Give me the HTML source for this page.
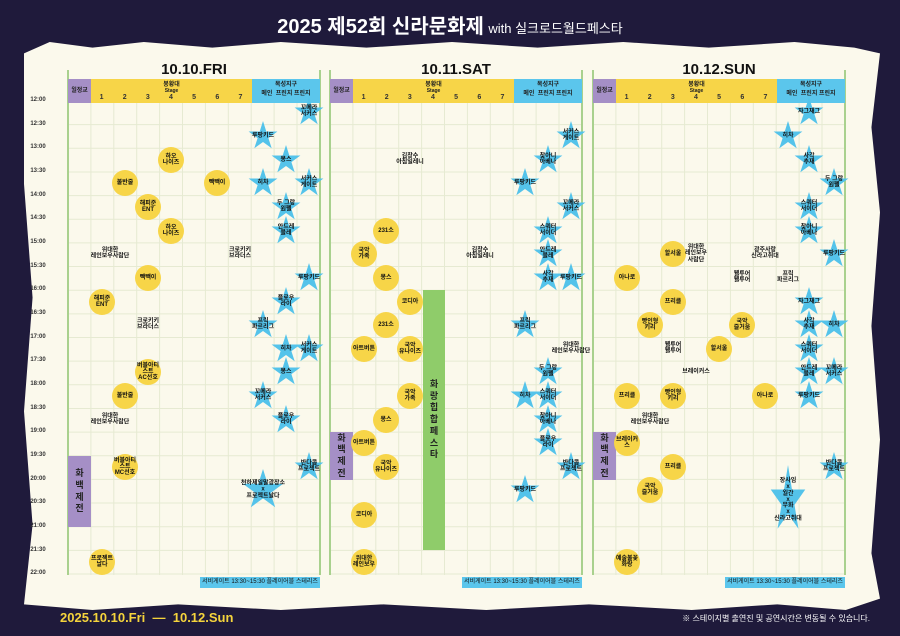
<!DOCTYPE html>
<html><head><meta charset="utf-8"><style>
*{margin:0;padding:0;box-sizing:border-box}
body{width:900px;height:636px;background:#1f1a3b;position:relative;overflow:hidden;font-family:"Liberation Sans","Noto Sans CJK KR",sans-serif}
.paper{position:absolute;left:24px;top:42px;width:856px;height:568px;background:#fbf9ec;clip-path:polygon(0 2%,3% 0,8% 1%,14% 0,22% 1%,30% 0,40% 1%,50% 0,60% 1%,70% 0,80% 1%,90% 0,97% 1%,100% 2%,99% 15%,100% 30%,99% 50%,100% 70%,99% 90%,100% 98%,96% 100%,88% 99%,78% 100%,66% 99%,54% 100%,42% 99%,30% 100%,18% 99%,8% 100%,0 99%,1% 85%,0 65%,1% 45%,0 25%)}
.a{position:absolute}
.t{font-size:6px;color:#333;font-weight:bold;width:24px;text-align:center}
.c{position:absolute;width:26px;height:26px;border-radius:50%;background:#f7d548;transform:translate(-50%,-50%);display:flex;align-items:center;justify-content:center;text-align:center;font-size:6px;font-weight:bold;line-height:1.05;color:#111}
.s{position:absolute;width:30px;height:30px;background:#54c3ea;transform:translate(-50%,-50%);clip-path:polygon(50% 0,61% 35%,98% 35%,68% 57%,79% 91%,50% 70%,21% 91%,32% 57%,2% 35%,39% 35%)}
.l{position:absolute;transform:translate(-50%,-50%);font-size:6px;font-weight:bold;line-height:1.05;text-align:center;color:#111;white-space:nowrap}
.hd{position:absolute;top:79px;height:24px;font-size:6px;font-weight:bold;text-align:center;color:#222}
.pur{background:#a58fc6}
.yel{background:#f7d548}
.blu{background:#5bc6ec}
.date{position:absolute;top:61px;width:252px;text-align:center;font-size:15px;font-weight:bold;color:#111}
.foot{position:absolute;top:577px;height:11px;background:#5bc6ec;font-size:6px;text-align:center;line-height:11px;color:#111}
.vb{position:absolute;font-size:9px;font-weight:bold;color:#222;text-align:center;display:flex;align-items:center;justify-content:center;line-height:1.3}
</style></head><body>
<div class="a" style="left:0;top:10px;width:900px;text-align:center;color:#fff"><span style="font-size:20px;font-weight:bold">2025 제52회 신라문화제</span> <span style="font-size:13px">with 실크로드월드페스타</span></div>
<div class="paper"></div>
<svg class="a" style="left:0;top:0" width="900" height="636" id="g"></svg>
<div class="date" style="left:68px">10.10.FRI</div>
<div class="date" style="left:330px">10.11.SAT</div>
<div class="date" style="left:593px">10.12.SUN</div>
<!-- headers -->
<div class="hd pur" style="left:68px;width:23px;line-height:24px">월정교</div>
<div class="hd yel" style="left:91px;width:161px">봉황대<br><span style="font-size:5px">Stage</span></div>
<div class="hd blu" style="left:252px;width:68px">목성지구<br>메인 &nbsp;프린지 프린지</div>
<div class="hd pur" style="left:330px;width:23px;line-height:24px">월정교</div>
<div class="hd yel" style="left:353px;width:161px">봉황대<br><span style="font-size:5px">Stage</span></div>
<div class="hd blu" style="left:514px;width:68px">목성지구<br>메인 &nbsp;프린지 프린지</div>
<div class="hd pur" style="left:593px;width:23px;line-height:24px">월정교</div>
<div class="hd yel" style="left:616px;width:161px">봉황대<br><span style="font-size:5px">Stage</span></div>
<div class="hd blu" style="left:777px;width:68px">목성지구<br>메인 &nbsp;프린지 프린지</div>
<div class="a t" style="left:90px;top:94px;width:162px;display:flex;justify-content:space-around;font-size:7px"><span>1</span><span>2</span><span>3</span><span>4</span><span>5</span><span>6</span><span>7</span></div>
<div class="a t" style="left:352px;top:94px;width:162px;display:flex;justify-content:space-around;font-size:7px"><span>1</span><span>2</span><span>3</span><span>4</span><span>5</span><span>6</span><span>7</span></div>
<div class="a t" style="left:615px;top:94px;width:162px;display:flex;justify-content:space-around;font-size:7px"><span>1</span><span>2</span><span>3</span><span>4</span><span>5</span><span>6</span><span>7</span></div>
<!-- time labels -->
<div class="a t" style="left:26px;top:97px">12:00</div><div class="a t" style="left:26px;top:121px">12:30</div>
<div class="a t" style="left:26px;top:144px">13:00</div><div class="a t" style="left:26px;top:168px">13:30</div>
<div class="a t" style="left:26px;top:192px">14:00</div><div class="a t" style="left:26px;top:215px">14:30</div>
<div class="a t" style="left:26px;top:239px">15:00</div><div class="a t" style="left:26px;top:263px">15:30</div>
<div class="a t" style="left:26px;top:286px">16:00</div><div class="a t" style="left:26px;top:310px">16:30</div>
<div class="a t" style="left:26px;top:334px">17:00</div><div class="a t" style="left:26px;top:357px">17:30</div>
<div class="a t" style="left:26px;top:381px">18:00</div><div class="a t" style="left:26px;top:405px">18:30</div>
<div class="a t" style="left:26px;top:428px">19:00</div><div class="a t" style="left:26px;top:452px">19:30</div>
<div class="a t" style="left:26px;top:476px">20:00</div><div class="a t" style="left:26px;top:499px">20:30</div>
<div class="a t" style="left:26px;top:523px">21:00</div><div class="a t" style="left:26px;top:547px">21:30</div>
<div class="a t" style="left:26px;top:570px">22:00</div>
<!-- bars -->
<div class="vb pur" style="left:68px;top:456px;width:23px;height:71px">화<br>백<br>제<br>전</div>
<div class="vb pur" style="left:330px;top:432px;width:23px;height:48px">화<br>백<br>제<br>전</div>
<div class="vb pur" style="left:593px;top:432px;width:23px;height:48px">화<br>백<br>제<br>전</div>
<div class="vb" style="left:423px;top:290px;width:22px;height:260px;background:#8fcc6a">화<br>랑<br>힙<br>합<br>페<br>스<br>타</div>
<div class="foot" style="left:200px;width:120px">서비게이트 13:30~15:30 플레이어블 스테리즈</div>
<div class="foot" style="left:462px;width:120px">서비게이트 13:30~15:30 플레이어블 스테리즈</div>
<div class="foot" style="left:725px;width:120px">서비게이트 13:30~15:30 플레이어블 스테리즈</div>
<!-- Day1 -->
<div class="c" style="left:171px;top:160px">하오<br>나이즈</div>
<div class="c" style="left:125px;top:183px">불반줄</div>
<div class="c" style="left:217px;top:183px">빽빽이</div>
<div class="c" style="left:148px;top:207px">해피준<br>ENT</div>
<div class="c" style="left:171px;top:231px">하오<br>나이즈</div>
<div class="l" style="left:110px;top:254px">위대한<br>레인보우사람단</div>
<div class="l" style="left:240px;top:254px">크로키키<br>브라더스</div>
<div class="c" style="left:148px;top:278px">빽빽이</div>
<div class="c" style="left:102px;top:302px">해피준<br>ENT</div>
<div class="l" style="left:148px;top:325px">크로키키<br>브라더스</div>
<div class="c" style="left:148px;top:372px">버블아티스트<br>AC선호</div>
<div class="c" style="left:125px;top:396px">불반줄</div>
<div class="l" style="left:110px;top:420px">위대한<br>레인보우사람단</div>
<div class="c" style="left:125px;top:467px">버블아티스트<br>MC선호</div>
<div class="c" style="left:102px;top:562px">프로젝트<br>날다</div>
<div class="s" style="left:309px;top:112px"></div><div class="l" style="left:309px;top:112px">꼬메라<br>서커스</div>
<div class="s" style="left:263px;top:136px"></div><div class="l" style="left:263px;top:136px">루팡키드</div>
<div class="s" style="left:286px;top:160px"></div><div class="l" style="left:286px;top:160px">몽스</div>
<div class="s" style="left:263px;top:183px"></div><div class="l" style="left:263px;top:183px">히차</div>
<div class="s" style="left:309px;top:183px"></div><div class="l" style="left:309px;top:183px">서커스<br>게이트</div>
<div class="s" style="left:286px;top:207px"></div><div class="l" style="left:286px;top:207px">두 그랑<br>원펠</div>
<div class="s" style="left:286px;top:231px"></div><div class="l" style="left:286px;top:231px">안드레<br>블레</div>
<div class="s" style="left:309px;top:278px"></div><div class="l" style="left:309px;top:278px">루팡키드</div>
<div class="s" style="left:286px;top:302px"></div><div class="l" style="left:286px;top:302px">플로우<br>라이</div>
<div class="s" style="left:263px;top:325px"></div><div class="l" style="left:263px;top:325px">프릭<br>파르리그</div>
<div class="s" style="left:309px;top:349px"></div><div class="l" style="left:309px;top:349px">서커스<br>게이트</div>
<div class="s" style="left:286px;top:349px"></div><div class="l" style="left:286px;top:349px">히차</div>
<div class="s" style="left:286px;top:372px"></div><div class="l" style="left:286px;top:372px">몽스</div>
<div class="s" style="left:263px;top:396px"></div><div class="l" style="left:263px;top:396px">꼬메라<br>서커스</div>
<div class="s" style="left:286px;top:420px"></div><div class="l" style="left:286px;top:420px">플로우<br>라이</div>
<div class="s" style="left:309px;top:467px"></div><div class="l" style="left:309px;top:467px">반다콤<br>프로젝트</div>
<div class="s" style="left:263px;top:490px;width:42px;height:42px"></div><div class="l" style="left:263px;top:490px">천하제일말광장소<br>x<br>프로젝트날다</div>
<!-- Day2 -->
<div class="l" style="left:410px;top:160px">김창수<br>아침일레니</div>
<div class="c" style="left:386px;top:231px">231소</div>
<div class="c" style="left:364px;top:254px">국악<br>가족</div>
<div class="l" style="left:480px;top:254px">김창수<br>아침일레니</div>
<div class="c" style="left:386px;top:278px">몽스</div>
<div class="c" style="left:410px;top:302px">코디아</div>
<div class="c" style="left:386px;top:325px">231소</div>
<div class="c" style="left:364px;top:349px">아트버튼</div>
<div class="c" style="left:410px;top:349px">국악<br>유나이즈</div>
<div class="c" style="left:410px;top:396px">국악<br>가족</div>
<div class="c" style="left:386px;top:420px">몽스</div>
<div class="c" style="left:364px;top:443px">아트버튼</div>
<div class="c" style="left:386px;top:467px">국악<br>유나이즈</div>
<div class="c" style="left:364px;top:515px">코디아</div>
<div class="c" style="left:364px;top:562px">위대한<br>레인보우</div>
<div class="s" style="left:571px;top:136px"></div><div class="l" style="left:571px;top:136px">서커스<br>게이트</div>
<div class="s" style="left:548px;top:160px"></div><div class="l" style="left:548px;top:160px">찾아니<br>아베나</div>
<div class="s" style="left:525px;top:183px"></div><div class="l" style="left:525px;top:183px">루팡키드</div>
<div class="s" style="left:571px;top:207px"></div><div class="l" style="left:571px;top:207px">꼬메라<br>서커스</div>
<div class="s" style="left:548px;top:231px"></div><div class="l" style="left:548px;top:231px">스쿼터<br>서이더</div>
<div class="s" style="left:548px;top:254px"></div><div class="l" style="left:548px;top:254px">안드레<br>블레</div>
<div class="s" style="left:548px;top:278px"></div><div class="l" style="left:548px;top:278px">사각<br>추재</div>
<div class="s" style="left:571px;top:278px"></div><div class="l" style="left:571px;top:278px">루팡키드</div>
<div class="s" style="left:525px;top:325px"></div><div class="l" style="left:525px;top:325px">프릭<br>파르리그</div>
<div class="l" style="left:571px;top:349px">위대한<br>레인보우사람단</div>
<div class="s" style="left:548px;top:372px"></div><div class="l" style="left:548px;top:372px">두 그랑<br>원펠</div>
<div class="s" style="left:525px;top:396px"></div><div class="l" style="left:525px;top:396px">히차</div>
<div class="s" style="left:548px;top:396px"></div><div class="l" style="left:548px;top:396px">스쿼터<br>서이더</div>
<div class="s" style="left:548px;top:420px"></div><div class="l" style="left:548px;top:420px">찾아니<br>아베나</div>
<div class="s" style="left:548px;top:443px"></div><div class="l" style="left:548px;top:443px">플로우<br>라이</div>
<div class="s" style="left:571px;top:467px"></div><div class="l" style="left:571px;top:467px">반다콤<br>프로젝트</div>
<div class="s" style="left:525px;top:490px"></div><div class="l" style="left:525px;top:490px">루팡키드</div>
<!-- Day3 -->
<div class="c" style="left:627px;top:278px">아나로</div>
<div class="c" style="left:673px;top:254px">할서울</div>
<div class="l" style="left:696px;top:254px">위대한<br>레인보우<br>사람단</div>
<div class="l" style="left:765px;top:254px">광주사랑<br>신라고취대</div>
<div class="l" style="left:742px;top:278px">웰투어<br>웰투어</div>
<div class="l" style="left:788px;top:278px">프릭<br>파르리그</div>
<div class="c" style="left:673px;top:302px">프리클</div>
<div class="c" style="left:650px;top:325px">빵인형<br>키리</div>
<div class="c" style="left:742px;top:325px">국악<br>즐거움</div>
<div class="l" style="left:673px;top:349px">웰투어<br>웰투어</div>
<div class="c" style="left:719px;top:349px">할서울</div>
<div class="l" style="left:696px;top:372px">브레이커스</div>
<div class="c" style="left:765px;top:396px">아나로</div>
<div class="c" style="left:627px;top:396px">프리클</div>
<div class="c" style="left:673px;top:396px">빵인형<br>키리</div>
<div class="l" style="left:650px;top:420px">위대한<br>레인보우사람단</div>
<div class="c" style="left:627px;top:443px">브레이커스</div>
<div class="c" style="left:673px;top:467px">프리클</div>
<div class="c" style="left:650px;top:490px">국악<br>즐거움</div>
<div class="c" style="left:627px;top:562px">예술불꽃<br>화랑</div>
<div class="s" style="left:809px;top:112px"></div><div class="l" style="left:809px;top:112px">자그재그</div>
<div class="s" style="left:788px;top:136px"></div><div class="l" style="left:788px;top:136px">히차</div>
<div class="s" style="left:809px;top:160px"></div><div class="l" style="left:809px;top:160px">사각<br>추재</div>
<div class="s" style="left:834px;top:183px"></div><div class="l" style="left:834px;top:183px">두 그랑<br>원펠</div>
<div class="s" style="left:809px;top:207px"></div><div class="l" style="left:809px;top:207px">스쿼터<br>서이더</div>
<div class="s" style="left:809px;top:231px"></div><div class="l" style="left:809px;top:231px">찾아니<br>아베나</div>
<div class="s" style="left:834px;top:254px"></div><div class="l" style="left:834px;top:254px">루팡키드</div>
<div class="s" style="left:809px;top:302px"></div><div class="l" style="left:809px;top:302px">자그재그</div>
<div class="s" style="left:809px;top:325px"></div><div class="l" style="left:809px;top:325px">사각<br>추재</div>
<div class="s" style="left:834px;top:325px"></div><div class="l" style="left:834px;top:325px">히차</div>
<div class="s" style="left:809px;top:349px"></div><div class="l" style="left:809px;top:349px">스쿼터<br>서이더</div>
<div class="s" style="left:809px;top:372px"></div><div class="l" style="left:809px;top:372px">안드레<br>블레</div>
<div class="s" style="left:834px;top:372px"></div><div class="l" style="left:834px;top:372px">꼬메라<br>서커스</div>
<div class="s" style="left:809px;top:396px"></div><div class="l" style="left:809px;top:396px">루팡키드</div>
<div class="s" style="left:834px;top:467px"></div><div class="l" style="left:834px;top:467px">반다콤<br>프로젝트</div>
<div class="s" style="left:788px;top:500px;width:36px;height:70px"></div><div class="l" style="left:788px;top:500px">장사임<br>x<br>월간<br>x<br>무화<br>x<br>신라고취대</div>
<!-- bottom -->
<div class="a" style="left:60px;top:610px;color:#f5d43c;font-size:13px;font-weight:bold">2025.10.10.Fri &nbsp;— &nbsp;10.12.Sun</div>
<div class="a" style="right:30px;top:613px;color:#fff;font-size:8px">※ 스테이지별 출연진 및 공연시간은 변동될 수 있습니다.</div>
<script>
var g=document.getElementById('g'),h='';
[68,330,593].forEach(function(x0){
 for(var i=1;i<11;i++){var x=x0+i*22.9;h+='<line x1="'+x+'" y1="103" x2="'+x+'" y2="575" stroke="#e6ead2" stroke-width="1"/>';}
 for(var j=1;j<=20;j++){var y=101+j*23.65;h+='<line x1="'+x0+'" y1="'+y+'" x2="'+(x0+252)+'" y2="'+y+'" stroke="#e6ead2" stroke-width="1"/>';}
 h+='<line x1="'+x0+'" y1="70" x2="'+x0+'" y2="575" stroke="#a9d18e" stroke-width="2"/>';
 h+='<line x1="'+(x0+252)+'" y1="70" x2="'+(x0+252)+'" y2="575" stroke="#a9d18e" stroke-width="2"/>';
});
g.innerHTML=h;
</script>
</body></html>
